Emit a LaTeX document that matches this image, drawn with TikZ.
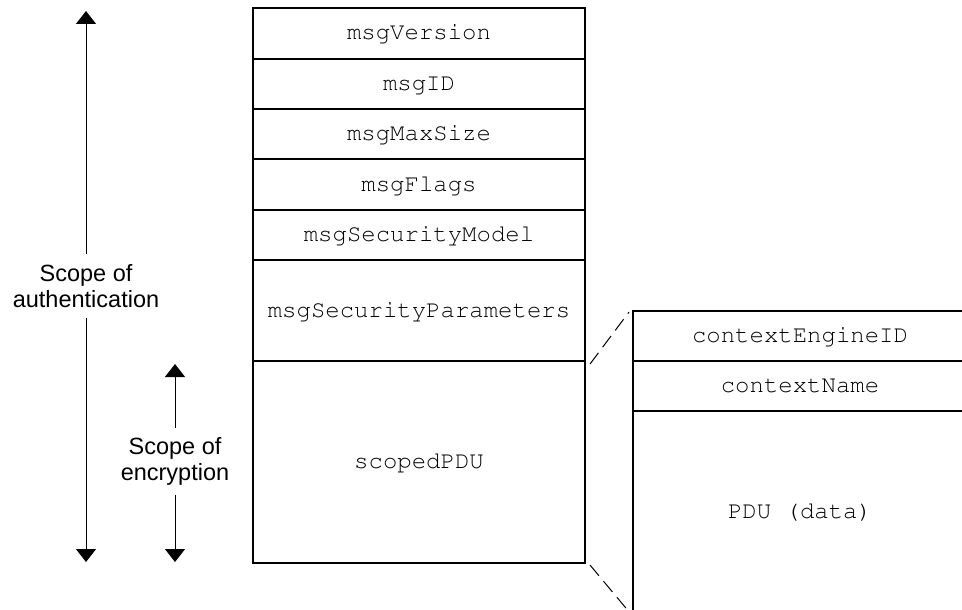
\documentclass[tikz,border=0pt]{standalone}
\usepackage[T1]{fontenc}
\usepackage{fontspec}
\setmainfont{Liberation Sans}
\setmonofont{Liberation Mono}
\newcommand{\courierfont}{\fontencoding{T1}\fontfamily{pcr}\fontseries{m}\fontshape{n}\fontsize{24}{26}\selectfont}
\usetikzlibrary{arrows.meta}
\begin{document}
\begin{tikzpicture}[x=1pt,y=-1pt,
  field/.style={draw, line width=1.3pt, inner sep=0pt, outer sep=0pt,
    font=\courierfont, text height=15pt, text depth=2pt},
  mainfield/.style={field, minimum width=332pt},
  subfield/.style={field, minimum width=334pt},
  scopelabel/.style={align=center, font=\fontsize{23.5}{26}\selectfont,
    inner xsep=0pt, inner ysep=10pt, outer sep=0pt},
  arr/.style={line width=1pt, -{Triangle[width=20pt,length=13pt]}},
  link/.style={line width=1pt, dash pattern=on 14pt off 7pt}]
\path[use as bounding box, clip] (0,0) rectangle (962,610);
% main message
\node[mainfield, minimum height=51pt] (ver) at (419,33.5) {msgVersion};
\node[mainfield, minimum height=50pt] (id) at (419,84) {msgID};
\node[mainfield, minimum height=50pt] (max) at (419,134) {msgMaxSize};
\node[mainfield, minimum height=51pt] (flags) at (419,184.5) {msgFlags};
\node[mainfield, minimum height=50pt] (model) at (419,235) {msgSecurityModel};
\node[mainfield, minimum height=101pt] (sp) at (419,310.5) {msgSecurityParameters};
\node[mainfield, minimum height=202pt] (pdu) at (419,462) {scopedPDU};
% scoped PDU detail
\node[subfield, minimum height=50pt] (ce) at (800,336) {contextEngineID};
\node[subfield, minimum height=50pt] (cn) at (800,386) {contextName};
\node[subfield, minimum height=202pt] (data) at (800,512) {PDU (data)};
% dashed links
\draw[link] ([shift={(5,3)}]sp.south east) -- ([shift={(-4,1)}]ce.north west);
\draw[link] ([shift={(5,2)}]pdu.south east) -- ([shift={(-3,0)}]data.south west);
% scope of authentication
\coordinate (atop) at (86,11);
\coordinate (abot) at (86,562);
\node[scopelabel] (auth) at (86,286) {Scope of\\authentication};
\draw[arr] (auth.north) -- (atop);
\draw[arr] (auth.south) -- (abot);
% scope of encryption
\coordinate (etop) at (175,364);
\coordinate (ebot) at (175,562);
\node[scopelabel] (enc) at (175,461.5) {Scope of\\encryption};
\draw[arr] (enc.north) -- (etop);
\draw[arr] (enc.south) -- (ebot);
\end{tikzpicture}
\end{document}
